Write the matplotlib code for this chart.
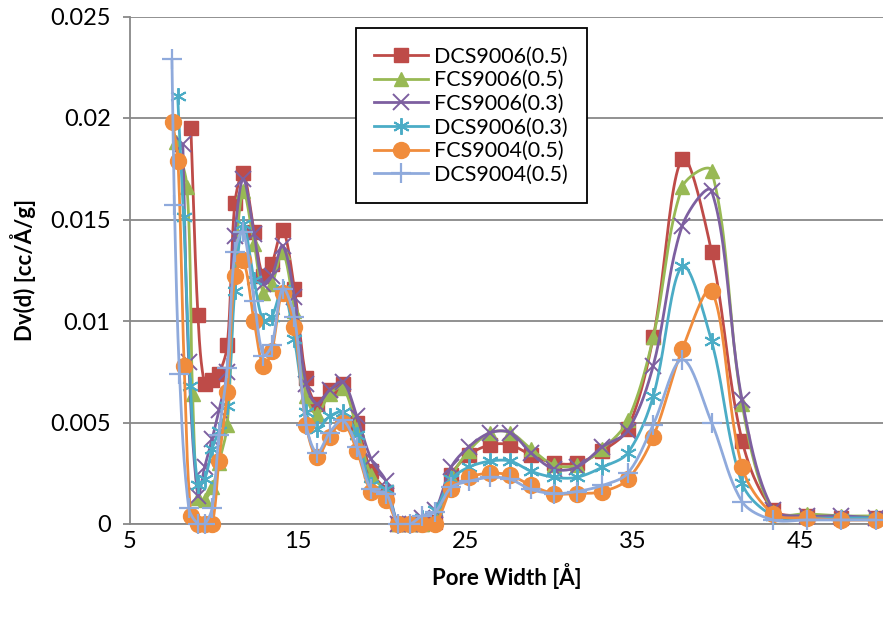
import numpy as np
import matplotlib
matplotlib.use('Agg')
import matplotlib.pyplot as plt

plt.rcParams['font.family'] = ['Lato', 'DejaVu Sans']

# pore widths shared by all samples from 9 A upward
width_tail = [9.05, 9.45, 9.9, 10.3, 10.8, 11.25, 11.75, 12.4, 12.95, 13.45,
              14.1, 14.8, 15.5, 16.15, 16.9, 17.7, 18.53, 19.38, 20.27, 21.0,
              21.7, 22.4, 23.2, 24.15, 25.2, 26.49, 27.68, 28.91, 30.3, 31.65,
              33.17, 34.68, 36.2, 37.93, 39.68, 41.5, 43.35, 45.34, 47.42, 49.5]

# first points below 9 A differ per sample
dcs9006_05_head_x = [8.63]
dcs9006_05_head_y = [0.0195]
fcs9006_05_head_x = [7.75, 8.4, 8.73]
fcs9006_05_head_y = [0.0188, 0.0166, 0.0064]
fcs9006_03_head_x = [8.15, 8.5]
fcs9006_03_head_y = [0.0187, 0.0080]
dcs9006_03_head_x = [7.84, 8.2, 8.6]
dcs9006_03_head_y = [0.0211, 0.0151, 0.0068]
fcs9004_05_head_x = [7.54, 7.86, 8.23, 8.63]
fcs9004_05_head_y = [0.0198, 0.0179, 0.0078, 0.0004]
dcs9004_05_head_x = [7.5, 7.65, 7.95, 8.5]
dcs9004_05_head_y = [0.0229, 0.0157, 0.0074, 0.0008]

dcs9006_05 = [0.0103, 0.0069, 0.0071, 0.0074, 0.0088, 0.0158, 0.0173, 0.0144, 0.0122, 0.0128,
              0.0145, 0.0116, 0.0072, 0.0059, 0.0066, 0.0069, 0.0050, 0.0026, 0.0016, 0.0,
              0.0, 0.0, 0.0001, 0.0024, 0.0034, 0.0039, 0.0039, 0.0034, 0.0030, 0.0030,
              0.0036, 0.0047, 0.0092, 0.0180, 0.0134, 0.0041, 0.0007, 0.0004, 0.0003, 0.0003]
fcs9006_05 = [0.0013, 0.0012, 0.0018, 0.0030, 0.0049, 0.0125, 0.0164, 0.0138, 0.0114, 0.0118,
              0.0134, 0.0105, 0.0063, 0.0054, 0.0064, 0.0067, 0.0047, 0.0024, 0.0016, 0.0,
              0.0, 0.0, 0.0002, 0.0023, 0.0036, 0.0045, 0.0045, 0.0037, 0.0029, 0.0029,
              0.0037, 0.0051, 0.0092, 0.0166, 0.0174, 0.0059, 0.0006, 0.0005, 0.0004, 0.0004]
fcs9006_03 = [0.0014, 0.0028, 0.0042, 0.0056, 0.0075, 0.0142, 0.0170, 0.0143, 0.0118, 0.0122,
              0.0137, 0.0112, 0.0069, 0.0059, 0.0066, 0.0070, 0.0053, 0.0032, 0.0021, 0.0,
              0.0, 0.0003, 0.0007, 0.0028, 0.0038, 0.0045, 0.0045, 0.0035, 0.0027, 0.0028,
              0.0038, 0.0046, 0.0078, 0.0147, 0.0164, 0.0061, 0.0007, 0.0004, 0.0004, 0.0003]
dcs9006_03 = [0.0019, 0.0022, 0.0037, 0.0046, 0.0058, 0.0115, 0.0148, 0.0120, 0.0100, 0.0102,
              0.0116, 0.0091, 0.0055, 0.0047, 0.0053, 0.0055, 0.0044, 0.0019, 0.0017, 0.0,
              0.0, 0.0003, 0.0007, 0.0022, 0.0028, 0.0031, 0.0031, 0.0026, 0.0023, 0.0023,
              0.0028, 0.0035, 0.0063, 0.0127, 0.0090, 0.0020, 0.0004, 0.0003, 0.0003, 0.0003]
fcs9004_05 = [0.0, 0.0, 0.0, 0.0031, 0.0065, 0.0122, 0.0130, 0.0100, 0.0078, 0.0085,
              0.0114, 0.0097, 0.0049, 0.0033, 0.0043, 0.0050, 0.0036, 0.0016, 0.0012, 0.0,
              0.0, 0.0, 0.0, 0.0017, 0.0023, 0.0025, 0.0024, 0.0019, 0.0015, 0.0015,
              0.0016, 0.0022, 0.0043, 0.0086, 0.0115, 0.0028, 0.0005, 0.0003, 0.0002, 0.0002]
dcs9004_05 = [0.0, 0.0, 0.0008, 0.0044, 0.0077, 0.0134, 0.0144, 0.0110, 0.0083, 0.0088,
              0.0116, 0.0102, 0.0049, 0.0035, 0.0045, 0.0051, 0.0038, 0.0017, 0.0015, 0.0,
              0.0, 0.0004, 0.0006, 0.0018, 0.0021, 0.0023, 0.0022, 0.0017, 0.0015, 0.0016,
              0.0019, 0.0025, 0.0049, 0.0081, 0.0050, 0.0011, 0.0002, 0.0002, 0.0002, 0.0002]

labels = ['DCS9006(0.5)', 'FCS9006(0.5)', 'FCS9006(0.3)',
          'DCS9006(0.3)', 'FCS9004(0.5)', 'DCS9004(0.5)']
y_ticks = [0, 0.005, 0.01, 0.015, 0.02, 0.025]
x_ticks = [5, 15, 25, 35, 45]

series = [
    (dcs9006_05_head_x, dcs9006_05_head_y, dcs9006_05),
    (fcs9006_05_head_x, fcs9006_05_head_y, fcs9006_05),
    (fcs9006_03_head_x, fcs9006_03_head_y, fcs9006_03),
    (dcs9006_03_head_x, dcs9006_03_head_y, dcs9006_03),
    (fcs9004_05_head_x, fcs9004_05_head_y, fcs9004_05),
    (dcs9004_05_head_x, dcs9004_05_head_y, dcs9004_05),
]

colors = ['#BE4B48', '#98B954', '#7D5FA0', '#4BACC6', '#F08C3C', '#8FAADC']
styles = [
    dict(marker='s', markersize=9.5),
    dict(marker='^', markersize=10.5),
    dict(marker='x', markersize=11, markeredgewidth=1.4),
    dict(marker=(6, 2, 0), markersize=12, markeredgewidth=1.4),
    dict(marker='o', markersize=11.5),
    dict(marker='+', markersize=15, markeredgewidth=1.6),
]


def smooth(ax, x, y, n=24):
    # bezier through every point, tangents scaled by neighbouring segment
    # lengths on screen (spreadsheet-style smoothed line)
    pts = ax.transData.transform(np.column_stack([x, y]))
    p = np.vstack([pts[0], pts, pts[-1]])
    t = np.linspace(0, 1, n)[:, None]
    out = []
    for i in range(len(pts) - 1):
        p0, p1, p2, p3 = p[i], p[i + 1], p[i + 2], p[i + 3]
        d01 = np.hypot(*(p1 - p0))
        d12 = np.hypot(*(p2 - p1))
        d23 = np.hypot(*(p3 - p2))
        c1 = p1 + (p2 - p0) * d12 / (3.0 * (d01 + d12)) if d12 > 0 else p1
        c2 = p2 - (p3 - p1) * d12 / (3.0 * (d12 + d23)) if d12 > 0 else p2
        seg = (1 - t) ** 3 * p1 + 3 * (1 - t) ** 2 * t * c1 + 3 * (1 - t) * t ** 2 * c2 + t ** 3 * p2
        out.append(seg if i == 0 else seg[1:])
    out = ax.transData.inverted().transform(np.vstack(out))
    return out[:, 0], out[:, 1]


fig = plt.figure(figsize=(8.83, 6.17), dpi=100)
ax = fig.add_axes([130 / 883, 1 - 524 / 617, 1 - 130 / 883, 507.5 / 617])
ax.set_xlim(5, 49.9)
ax.set_ylim(0, 0.025)

grid_color = '#888888'
for i, (hx, hy, tail) in enumerate(series):
    x = np.array(hx + width_tail)
    y = np.array(hy + tail)
    sx, sy = smooth(ax, x, y)
    ax.plot(sx, sy, color=colors[i], lw=2.0, zorder=3 + i, solid_capstyle='round')
    ax.plot(x, y, linestyle='none', color=colors[i], markerfacecolor=colors[i],
            markeredgecolor=colors[i], zorder=3 + i, clip_on=False, **styles[i])
    ax.plot([], [], color=colors[i], lw=2.0, markerfacecolor=colors[i],
            markeredgecolor=colors[i], label=labels[i], **styles[i])

ax.set_xticks(x_ticks)
ax.set_xticklabels([str(v) for v in x_ticks])
ax.set_yticks(y_ticks)
ax.set_yticklabels(['0', '0.005', '0.01', '0.015', '0.02', '0.025'])
ax.grid(axis='y', color=grid_color, lw=1.3, zorder=1)
ax.set_axisbelow(True)

for side in ['top', 'right']:
    ax.spines[side].set_visible(False)
for side in ['left', 'bottom']:
    ax.spines[side].set_color(grid_color)
    ax.spines[side].set_linewidth(1.3)

ax.tick_params(axis='y', length=5, width=1.3, color=grid_color, labelsize=17, pad=9)
ax.tick_params(axis='x', length=0, labelsize=17, pad=5)

ax.set_xlabel('Pore Width [Å]', fontsize=16, fontweight='bold', labelpad=8)
ax.set_ylabel('Dv(d) [cc/Å/g]', fontsize=16, fontweight='bold', labelpad=10)

leg = ax.legend(loc='upper left', bbox_to_anchor=(0.300, 0.977), borderaxespad=0,
                fontsize=15.5, handlelength=2.5, handletextpad=0.3, labelspacing=0.17,
                borderpad=0.85, fancybox=False, framealpha=1, edgecolor='black')
leg.get_frame().set_linewidth(1.3)
leg.set_zorder(20)

fig.savefig('out.png', dpi=100)
